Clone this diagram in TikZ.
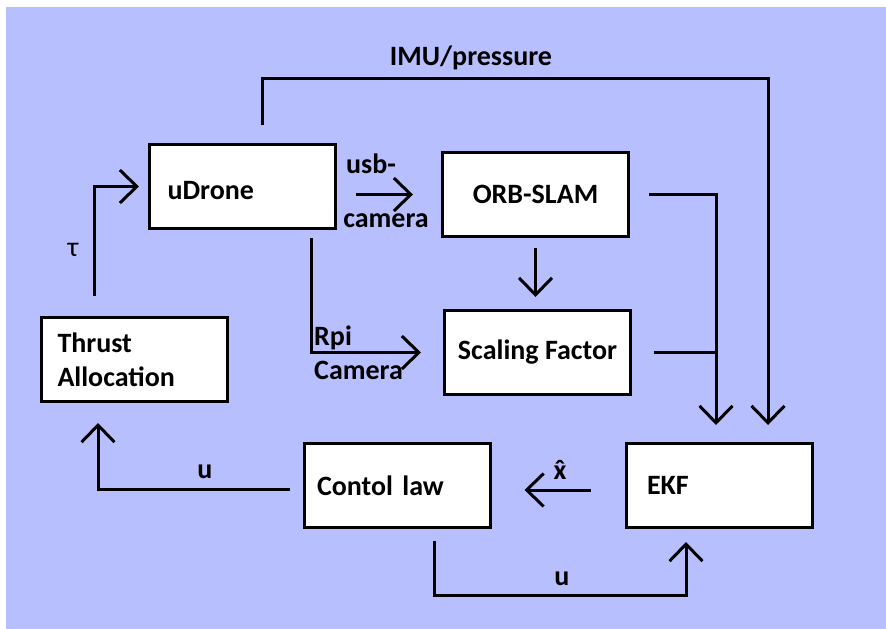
\documentclass[tikz,border=0pt]{standalone}
\usepackage{fontspec}
\setmainfont{Carlito}
\usepackage{xcolor}
\usetikzlibrary{arrows.meta}
\definecolor{bgblue}{RGB}{184,191,255}

\begin{document}
\begin{tikzpicture}[x=1pt, y=-1pt,
    font=\fontsize{28}{34}\selectfont\bfseries,
    box/.style={draw, line width=3pt, fill=white, minimum width=186pt, minimum height=84pt, inner sep=0pt},
    lbox/.style={box, text width=150pt, inner xsep=18pt, align=left},
    line/.style={line width=3pt},
    arr/.style={line, -{Straight Barb[length=17pt, width=33pt]}}]
\useasboundingbox (0,0) rectangle (886,629);
\fill[bgblue] (6,7) rectangle (886,629);

\node[lbox, text height=25pt, text depth=0pt] (udrone) at (242.5,186.5) {uDrone};
\node[box]  (orb)    at (535.5,194.5) {ORB-SLAM};
\node[box]  (scal)   at (537.5,352.5) {Scaling Factor};
\node[lbox, inner xsep=16pt, text width=154pt] (thrust) at (134.5,359.5) {Thrust\\Allocation};
\node[lbox, inner xsep=13pt, text width=160pt] (ctrl) at (397,485.5) {Contol law};
\node[lbox, inner xsep=21pt, text width=144pt] (ekf)  at (719,485.5) {EKF};
\coordinate (join) at ([xshift=-3pt]ekf.north);

\draw[arr] ([xshift=19.5pt, yshift=18pt]udrone.north) -- ++(0,-47)
    -| ([xshift=49pt, yshift=17pt]ekf.north);
\draw[arr, shorten <=19pt, shorten >=28pt] (orb.west -| udrone.east) -- (orb.west);
\draw[arr, shorten <=8pt, shorten >=22pt] ([xshift=68.5pt]udrone.south) |- (scal.west);
\draw[arr, shorten <=10pt, shorten >=12pt] (orb.south) -- (orb.south |- scal.north);
\draw[arr, shorten <=19pt, shorten >=17pt] (orb.east) -| (join);
\draw[line, shorten <=22pt] (scal.east) -- (scal.east -| join);
\draw[arr, shorten <=34pt, shorten >=33pt] ([yshift=-4.5pt]ekf.west) -- ([yshift=-4.5pt]ctrl.east);
\draw[arr, shorten <=12pt, shorten >=13pt] ([xshift=37pt]ctrl.south) -- ++(0,66.5)
    -| ([xshift=-33pt]ekf.south);
\draw[arr, shorten <=13pt, shorten >=20pt] ([yshift=-3.5pt]ctrl.west) -| ([xshift=-36.5pt]thrust.south);
\draw[arr, shorten <=20pt, shorten >=9pt] ([xshift=-40.5pt]thrust.north) |- (udrone.west);

\node (imu) at (471,58) {IMU/pressure};
\node (usb) at (371,164) {usb-};
\node (cam) at (386,221) {camera};
\node[anchor=west, inner sep=0pt] (rpi) at (314,338) {Rpi};
\node[anchor=west, inner sep=0pt] (rpicam) at (314,370) {Camera};
\node (xhat) at (560,470) {\accent"02C6 x};
\node (u1) at (562,579) {u};
\node (u2) at (205,472) {u};
\node[font=\fontsize{28}{34}\selectfont] (tau) at (73,250) {τ};
\end{tikzpicture}
\end{document}
